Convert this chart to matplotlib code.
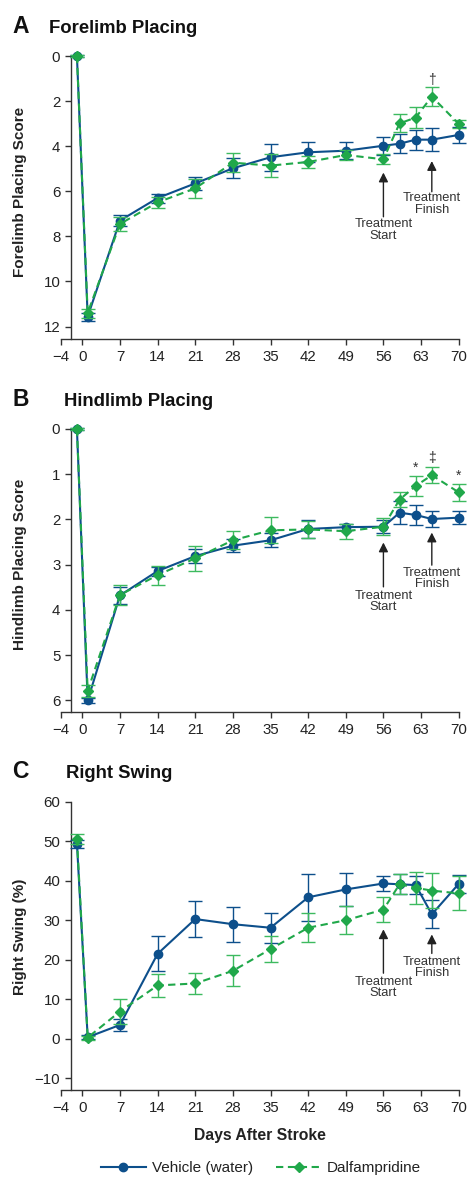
import matplotlib
matplotlib.use("Agg")
import matplotlib.pyplot as plt
from matplotlib.lines import Line2D

plt.rcParams['font.family'] = ['Liberation Sans', 'DejaVu Sans']

days = [-1, 1, 7, 14, 21, 28, 35, 42, 49, 56, 59, 62, 65, 70]
xticks = [-4, 0, 7, 14, 21, 28, 35, 42, 49, 56, 63, 70]

# Panel A: Forelimb placing
fore_veh = [0, 11.56, 7.3, 6.3, 5.65, 4.98, 4.49, 4.27, 4.2, 3.98, 3.89, 3.71, 3.71, 3.5]
fore_veh_err = [0.05, 0.17, 0.25, 0.2, 0.3, 0.45, 0.6, 0.45, 0.38, 0.4, 0.42, 0.45, 0.5, 0.37]
fore_dal = [0, 11.4, 7.45, 6.49, 5.87, 4.73, 4.86, 4.7, 4.39, 4.58, 2.99, 2.73, 1.8, 3.01]
fore_dal_err = [0.05, 0.2, 0.3, 0.25, 0.42, 0.41, 0.52, 0.26, 0.22, 0.23, 0.4, 0.47, 0.43, 0.17]

# Panel B: Hindlimb placing
hind_veh = [0, 6.0, 3.68, 3.14, 2.81, 2.58, 2.46, 2.21, 2.17, 2.16, 1.85, 1.9, 1.99, 1.96]
hind_veh_err = [0.02, 0.05, 0.19, 0.1, 0.15, 0.15, 0.15, 0.19, 0.07, 0.15, 0.25, 0.22, 0.17, 0.15]
hind_dal = [0, 5.79, 3.67, 3.23, 2.86, 2.46, 2.24, 2.22, 2.26, 2.16, 1.56, 1.26, 1.02, 1.4]
hind_dal_err = [0.02, 0.13, 0.22, 0.21, 0.27, 0.2, 0.29, 0.18, 0.17, 0.19, 0.17, 0.22, 0.17, 0.19]

# Panel C: Right swing (%)
swing_veh = [49.4, 0.4, 3.5, 21.5, 30.3, 29.0, 28.1, 35.8, 37.8, 39.3, 39.1, 38.9, 31.5, 39.2]
swing_veh_err = [1.0, 0.5, 1.6, 4.4, 4.5, 4.4, 3.8, 6.0, 4.1, 2.0, 2.5, 2.3, 3.5, 2.3]
swing_dal = [50.6, 0.3, 6.9, 13.5, 14.0, 17.2, 22.7, 28.1, 30.0, 32.7, 39.1, 38.2, 37.5, 36.8]
swing_dal_err = [1.3, 0.5, 3.2, 3.0, 2.6, 3.9, 3.2, 3.7, 3.5, 3.2, 2.5, 4.0, 4.5, 4.3]

BLUE = '#0d4f8b'
GREEN = '#20a84a'
GREEN_E = '#3dba5f'
TXT = '#222222'

W, H = 469, 1177
fig = plt.figure(figsize=(W / 100, H / 100), dpi=100)


def make_ax(top_px, bot_px):
    left, right = 60.8, 458.7
    return fig.add_axes([left / W, 1 - bot_px / H, (right - left) / W, (bot_px - top_px) / H])


def style(ax, ylim, yticks, ylabel, ly):
    ax.set_xlim(-4, 70)
    ax.set_ylim(*ylim)
    ax.spines['top'].set_visible(False)
    ax.spines['right'].set_visible(False)
    ax.spines['left'].set_position(('data', -2.16))
    for s in ('left', 'bottom'):
        ax.spines[s].set_color('#333333')
        ax.spines[s].set_linewidth(1.0)
    ax.set_xticks(xticks)
    ax.set_yticks(yticks)
    ax.tick_params(axis='both', direction='out', length=4.5, width=1.0, color='#333333',
                   labelsize=10.8, labelcolor=TXT)
    ax.tick_params(axis='x', pad=3.5)
    ax.tick_params(axis='y', pad=3)
    ax.set_ylabel(ylabel, fontsize=11, fontweight='bold', color=TXT)
    ax.yaxis.set_label_coords(-0.085, ly)


def draw(ax, veh, veh_err, dal, dal_err):
    e1 = ax.errorbar(days, veh, yerr=veh_err, color=BLUE, ecolor=BLUE, lw=1.5, elinewidth=1.0,
                     capsize=4.8, capthick=1.0, marker='o', ms=6, mfc=BLUE, mec=BLUE,
                     clip_on=False, zorder=3)
    e2 = ax.errorbar(days, dal, yerr=dal_err, color=GREEN, ecolor=GREEN_E, lw=1.5, elinewidth=1.0,
                     capsize=4.8, capthick=1.0, marker='D', ms=5.5, mfc=GREEN, mec=GREEN,
                     ls=(0, (3.5, 2.2)), clip_on=False, zorder=4)
    for e in (e1, e2):
        for c in e.lines[1] + e.lines[2]:
            c.set_clip_on(False)


def arrows(ax, start, finish):
    for x, (tip, tail, ttop), lab in ((56, start, 'Treatment\nStart'), (65, finish, 'Treatment\nFinish')):
        ax.annotate('', xy=(x, tip), xytext=(x, tail),
                    arrowprops=dict(arrowstyle='-|>,head_length=0.55,head_width=0.28',
                                    color='#222222', lw=1.0, shrinkA=0, shrinkB=0))
        ax.text(x, ttop, lab, ha='center', va='top', fontsize=9.3, color='#333333',
                linespacing=0.92)


def title(letter, text, ybase, xt):
    fig.text(12 / W, 1 - ybase / H, letter, fontsize=16.5, fontweight='bold', color='#111111',
             ha='left', va='baseline')
    fig.text(xt / W, 1 - ybase / H, text, fontsize=13.3, fontweight='bold', color='#111111',
             ha='left', va='baseline')


# Panel A
axA = make_ax(56, 339)
style(axA, (12.55, 0), [0, 2, 4, 6, 8, 10, 12], 'Forelimb Placing Score', 0.519)
draw(axA, fore_veh, fore_veh_err, fore_dal, fore_dal_err)
arrows(axA, (5.17, 7.13, 7.2), (4.66, 6.02, 6.05))
axA.text(65, 1.25, '†', ha='center', va='baseline', fontsize=10, color='#333333')
title('A', 'Forelimb Placing', 33, 49)

# Panel B
axB = make_ax(429, 711.7)
style(axB, (6.25, 0), [0, 1, 2, 3, 4, 5, 6], 'Hindlimb Placing Score', 0.52)
draw(axB, hind_veh, hind_veh_err, hind_dal, hind_dal_err)
arrows(axB, (2.51, 3.49, 3.55), (2.29, 3.01, 3.05))
axB.text(62, 0.95, '*', ha='center', va='baseline', fontsize=10, color='#333333')
axB.text(65, 0.72, '‡', ha='center', va='baseline', fontsize=10, color='#333333')
axB.text(70, 1.13, '*', ha='center', va='baseline', fontsize=10, color='#333333')
title('B', 'Hindlimb Placing', 406, 64)

# Panel C
axC = make_ax(801.7, 1090)
style(axC, (-12.96, 60), [-10, 0, 10, 20, 30, 40, 50, 60], 'Right Swing (%)', 0.532)
draw(axC, swing_veh, swing_veh_err, swing_dal, swing_dal_err)
arrows(axC, (27.7, 16.6, 16.0), (26.4, 21.6, 21.0))
axC.set_xlabel('Days After Stroke', fontsize=11.3, fontweight='bold', color=TXT, labelpad=9)
title('C', 'Right Swing', 778, 66)

handles = [Line2D([], [], color=BLUE, lw=1.5, marker='o', ms=6),
           Line2D([], [], color=GREEN, lw=1.5, marker='D', ms=5.5, ls=(0, (3.5, 2.2)))]
fig.legend(handles, ['Vehicle (water)', 'Dalfampridine'], loc='center', ncol=2,
           bbox_to_anchor=(0.556, 1 - 1168 / H), frameon=False, fontsize=11,
           handlelength=3.0, handletextpad=0.35, columnspacing=1.5, labelcolor=TXT)

fig.savefig('out.png', dpi=100)
